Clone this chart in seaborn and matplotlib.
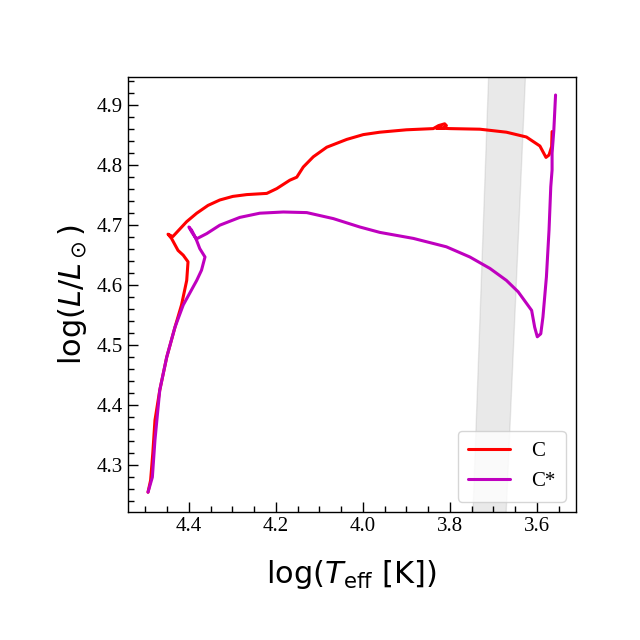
import numpy as np
import pandas as pd
import matplotlib
matplotlib.use("Agg")
import matplotlib.pyplot as plt
from matplotlib.ticker import MultipleLocator
import seaborn as sns

# track C (log Teff, log L)
c_logT = [4.494, 4.488, 4.483, 4.478, 4.467, 4.451, 4.432, 4.417, 4.405, 4.402,
          4.413, 4.425, 4.440, 4.448, 4.437, 4.405, 4.382, 4.356, 4.329, 4.299,
          4.267, 4.221, 4.198, 4.168, 4.152, 4.137, 4.114, 4.083, 4.037, 3.999,
          3.961, 3.900, 3.838, 3.826, 3.812, 3.808, 3.815, 3.832, 3.800, 3.731,
          3.670, 3.624, 3.593, 3.579, 3.572, 3.566, 3.565]
c_logL = [4.255, 4.275, 4.320, 4.375, 4.425, 4.480, 4.530, 4.567, 4.608, 4.639,
          4.650, 4.658, 4.678, 4.685, 4.681, 4.706, 4.720, 4.733, 4.742, 4.748,
          4.751, 4.753, 4.761, 4.775, 4.780, 4.797, 4.814, 4.830, 4.843, 4.851,
          4.855, 4.859, 4.861, 4.866, 4.869, 4.866, 4.862, 4.862, 4.861, 4.860,
          4.855, 4.847, 4.832, 4.813, 4.817, 4.831, 4.856]

# track C* (log Teff, log L)
cs_logT = [4.494, 4.484, 4.478, 4.467, 4.451, 4.432, 4.413, 4.382, 4.371, 4.363,
           4.375, 4.384, 4.394, 4.400, 4.393, 4.383, 4.359, 4.329, 4.283, 4.237,
           4.183, 4.129, 4.068, 4.007, 3.961, 3.884, 3.808, 3.754, 3.708, 3.670,
           3.643, 3.612, 3.605, 3.599, 3.591, 3.586, 3.578, 3.572, 3.568, 3.565,
           3.565, 3.561, 3.557]
cs_logL = [4.255, 4.280, 4.342, 4.425, 4.480, 4.530, 4.567, 4.608, 4.625, 4.647,
           4.661, 4.678, 4.692, 4.697, 4.688, 4.677, 4.686, 4.700, 4.713, 4.720,
           4.722, 4.721, 4.711, 4.697, 4.688, 4.678, 4.664, 4.647, 4.628, 4.608,
           4.589, 4.558, 4.530, 4.514, 4.519, 4.547, 4.614, 4.692, 4.764, 4.792,
           4.820, 4.858, 4.917]

# instability strip edges
strip_logL = [4.20, 4.97]
strip_blue = [3.749, 3.711]
strip_red = [3.673, 3.626]

sns.set_style("ticks", {"axes.edgecolor": "black", "text.color": "black",
                        "axes.labelcolor": "black", "xtick.color": "black",
                        "ytick.color": "black"})
plt.rcParams['font.family'] = ['Liberation Serif', 'DejaVu Serif']
plt.rcParams['mathtext.fontset'] = 'dejavusans'

fig = plt.figure(figsize=(6.4, 6.4), dpi=100)
ax = fig.add_axes([128 / 640, 128 / 640, 448 / 640, 435 / 640])

ax.fill_betweenx(strip_logL, strip_blue, strip_red, color='0.5', alpha=0.17,
                 linewidth=1, zorder=0)

df_c = pd.DataFrame({'logT': c_logT, 'logL': c_logL})
df_cs = pd.DataFrame({'logT': cs_logT, 'logL': cs_logL})
sns.lineplot(data=df_c, x='logT', y='logL', sort=False, estimator=None,
             color='r', lw=2.2, label='C', ax=ax)
sns.lineplot(data=df_cs, x='logT', y='logL', sort=False, estimator=None,
             color='m', lw=2.2, label='C*', ax=ax)

ax.set_xlim(4.54, 3.51)
ax.set_ylim(4.222, 4.947)
ax.xaxis.set_major_locator(MultipleLocator(0.2))
ax.xaxis.set_minor_locator(MultipleLocator(0.05))
ax.yaxis.set_major_locator(MultipleLocator(0.1))
ax.yaxis.set_minor_locator(MultipleLocator(0.02))
ax.tick_params(which='both', direction='in', top=False, right=False,
               labelsize=15, colors='black')
ax.tick_params(which='major', length=7, width=1)
ax.tick_params(which='minor', length=4, width=1)
for s in ax.spines.values():
    s.set_linewidth(1)

ax.set_xlabel(r'$\log(T_{\rm eff}\ [\rm K])$', fontsize=22, labelpad=16,
              family='DejaVu Sans', color='black')
ax.set_ylabel(r'$\log(L/L_\odot)$', fontsize=22, labelpad=6,
              family='DejaVu Sans', color='black')

ax.legend(loc='lower right', fontsize=15, handlelength=2.0, borderpad=0.5,
          labelspacing=0.5, handletextpad=1.0)

fig.savefig('out.png', dpi=100)
